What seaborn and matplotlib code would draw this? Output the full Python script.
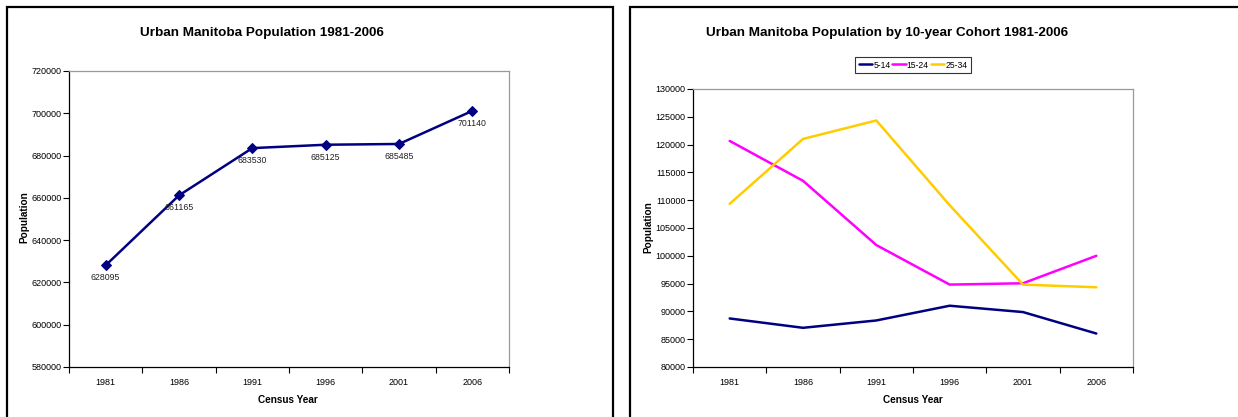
import matplotlib
matplotlib.use('Agg')
import matplotlib.pyplot as plt
from matplotlib.patches import Rectangle
import seaborn as sns
import pandas as pd

# data
years = [1981, 1986, 1991, 1996, 2001, 2006]
total_pop = [628095, 661165, 683530, 685125, 685485, 701140]
cohort_names = ['5-14', '15-24', '25-34']
pop_5_14 = [88730, 87050, 88370, 91020, 89880, 86020]
pop_15_24 = [120660, 113490, 101930, 94820, 95060, 100000]
pop_25_34 = [109340, 121020, 124340, 109100, 94820, 94340]
cohort_colors = ['#000080', '#FF00FF', '#FFCC00']

sns.set_style('white')
plt.rcParams['font.family'] = ['Liberation Sans', 'DejaVu Sans']
plt.rcParams['text.color'] = 'black'
plt.rcParams['xtick.color'] = 'black'
plt.rcParams['ytick.color'] = 'black'

W, H = 1238, 417
fig = plt.figure(figsize=(W / 100, H / 100), dpi=100)

# chart frames (black borders)
fig.patches.append(Rectangle((7 / W, -0.1), 606 / W, 1.1 - 7 / H, transform=fig.transFigure,
                             fill=False, edgecolor='black', linewidth=1.6))
fig.patches.append(Rectangle((630 / W, -0.1), 620 / W, 1.1 - 7 / H, transform=fig.transFigure,
                             fill=False, edgecolor='black', linewidth=1.6))


def style_axes(ax, ymin, ymax, ystep):
    ax.set_xlim(years[0] - 2.5, years[-1] + 2.5)
    ax.set_ylim(ymin, ymax)
    ax.set_yticks(range(ymin, ymax + 1, ystep))
    ax.set_yticklabels([str(v) for v in range(ymin, ymax + 1, ystep)])
    # Excel-style category axis: ticks at boundaries, labels in the middle
    ax.set_xticks([y - 2.5 for y in years] + [years[-1] + 2.5])
    ax.set_xticklabels([])
    ax.set_xticks(years, minor=True)
    ax.set_xticklabels([str(y) for y in years], minor=True)
    ax.tick_params(axis='x', which='major', bottom=True, direction='out', length=4, width=0.8,
                   color='black')
    ax.tick_params(axis='x', which='minor', bottom=True, length=0, pad=8, labelsize=6.5)
    ax.tick_params(axis='y', left=True, direction='out', length=4, width=0.8, color='black',
                   labelsize=6.5, pad=1.5)
    ax.spines['left'].set_color('black')
    ax.spines['bottom'].set_color('black')
    ax.spines['top'].set_color('#999999')
    ax.spines['right'].set_color('#999999')
    for s in ax.spines.values():
        s.set_linewidth(0.9)
    ax.set_xlabel('')
    ax.set_ylabel('')


# left chart
ax1 = fig.add_axes([69 / W, (H - 367) / H, 440 / W, 296 / H])
df1 = pd.DataFrame({'year': years, 'pop': total_pop})
sns.lineplot(data=df1, x='year', y='pop', ax=ax1, color='#000080', linewidth=1.8,
             marker='D', markersize=5, markeredgecolor='#000080')
style_axes(ax1, 580000, 720000, 20000)
for yr, v in zip(years, total_pop):
    ax1.annotate(str(v), (yr, v), xytext=(0, -9), textcoords='offset points',
                 ha='center', va='center', fontsize=6.3, color='#222222')

fig.text(262 / W, 1 - 33 / H, 'Urban Manitoba Population 1981-2006', ha='center', va='center',
         fontsize=9.7, fontweight='bold')
fig.text(288 / W, 1 - 400 / H, 'Census Year', ha='center', va='center', fontsize=7.2, fontweight='bold')
fig.text(24 / W, 1 - 217 / H, 'Population', ha='center', va='center', rotation=90,
         fontsize=7.2, fontweight='bold')

# right chart
ax2 = fig.add_axes([693 / W, (H - 367) / H, 440 / W, 278 / H])
df2 = pd.DataFrame({'year': years * 3,
                    'pop': pop_5_14 + pop_15_24 + pop_25_34,
                    'cohort': [c for c in cohort_names for _ in years]})
sns.lineplot(data=df2, x='year', y='pop', hue='cohort', hue_order=cohort_names,
             palette=cohort_colors, ax=ax2, linewidth=1.8)
style_axes(ax2, 80000, 130000, 5000)
leg = ax2.legend(loc='center', bbox_to_anchor=(913 / W, 1 - 65 / H), bbox_transform=fig.transFigure,
                 ncol=3, fontsize=6.2, frameon=True, fancybox=False, handlelength=1.6,
                 handletextpad=0.1, columnspacing=0.2, borderpad=0.4, borderaxespad=0, title=None)
leg.get_frame().set_edgecolor('black')
leg.get_frame().set_linewidth(0.8)

fig.text(887 / W, 1 - 33 / H, 'Urban Manitoba Population by 10-year Cohort 1981-2006', ha='center',
         va='center', fontsize=9.7, fontweight='bold')
fig.text(913 / W, 1 - 400 / H, 'Census Year', ha='center', va='center', fontsize=7.2, fontweight='bold')
fig.text(648 / W, 1 - 227 / H, 'Population', ha='center', va='center', rotation=90,
         fontsize=7.2, fontweight='bold')

fig.savefig('out.png', dpi=100)
